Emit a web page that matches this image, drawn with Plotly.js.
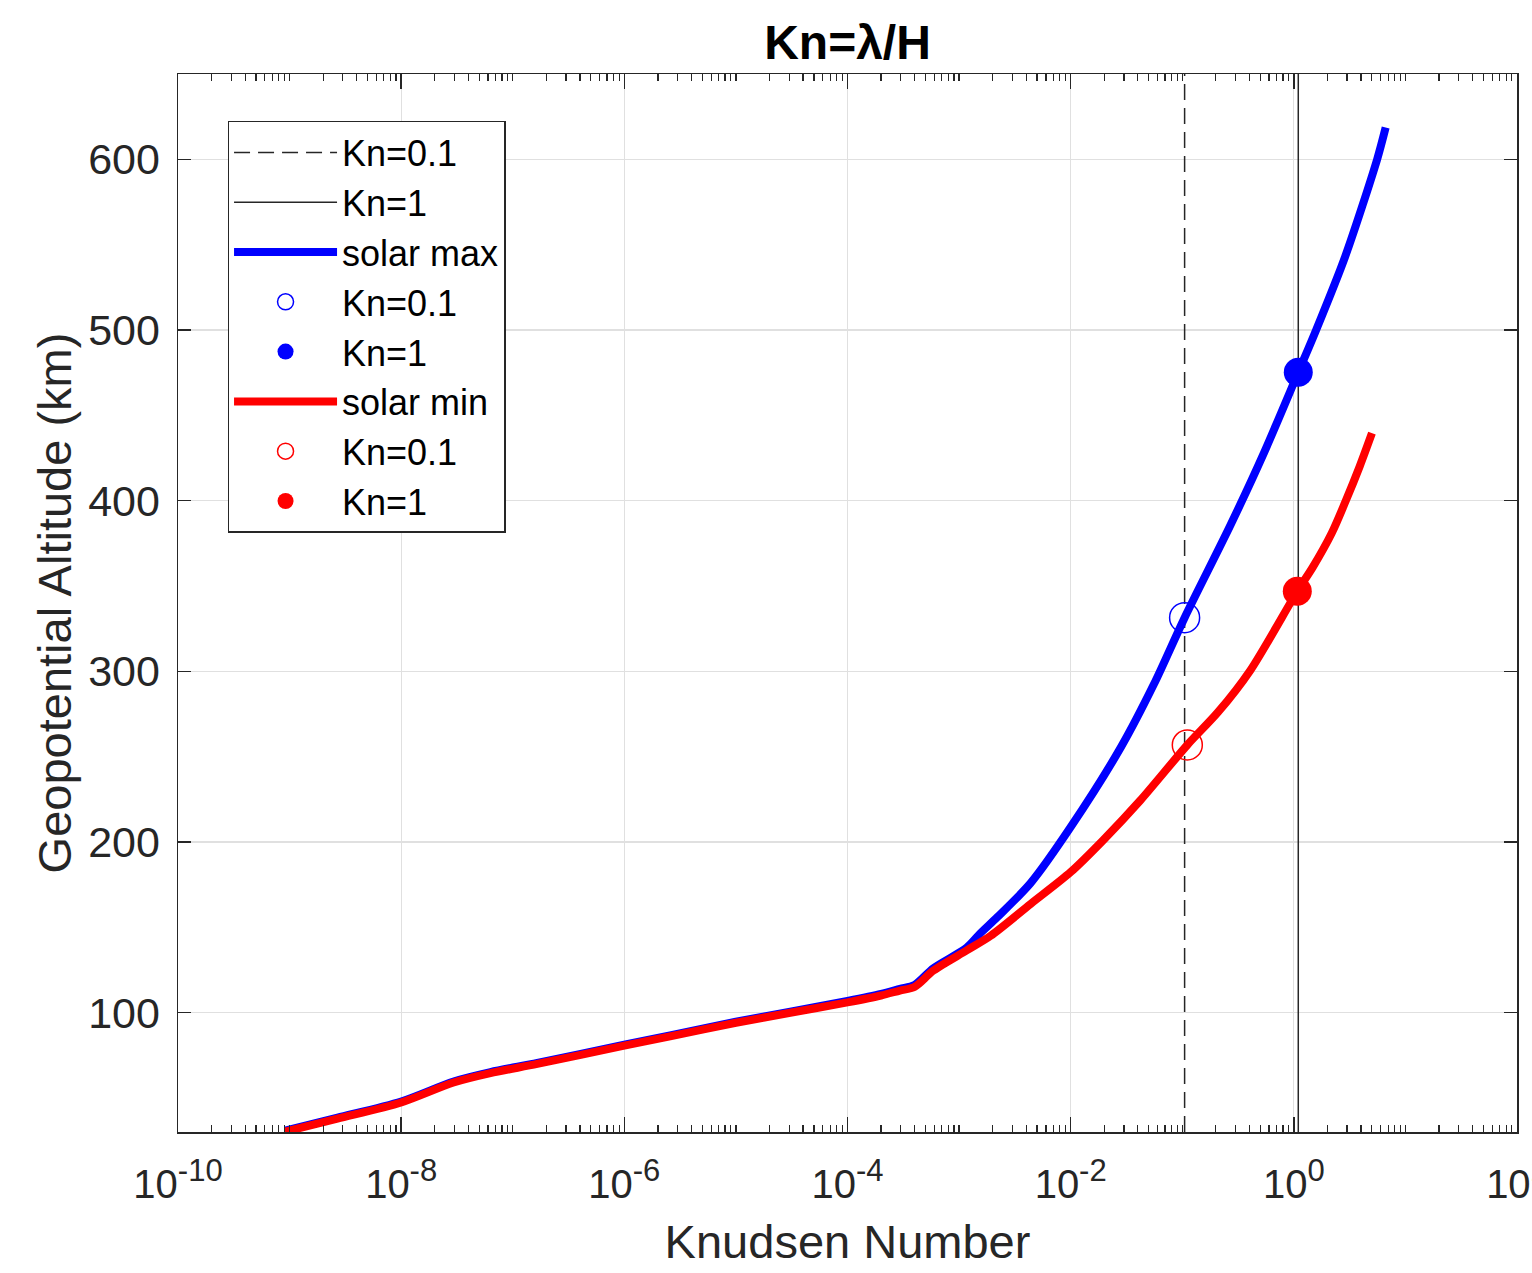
<!DOCTYPE html>
<html>
<head>
<meta charset="utf-8">
<script src="https://cdn.plot.ly/plotly-3.0.1.min.js"></script>
<style>
html,body{margin:0;padding:0;background:#fff;}
#chart{width:1532px;height:1273px;}
</style>
</head>
<body>
<div id="chart"></div>
<script>
// Solar min (red) curve: Knudsen number vs geopotential altitude (km)
const minKn  = [9.12e-10, 2.69e-9, 1.0e-8, 2.95e-8, 6.31e-8, 1.66e-7, 1.0e-6, 2.57e-6, 1.0e-5, 3.16e-5, 1.0e-4, 2.0e-4, 2.95e-4, 3.98e-4, 5.89e-4, 1.17e-3, 1.92e-3, 4.39e-3, 1.0e-2, 1.95e-2, 4.22e-2, 0.111, 0.209, 0.407, 1.074, 1.479, 2.188, 2.884, 3.890, 5.012];
const minAlt = [30.2, 37.8, 47.3, 59, 64.5, 69.9, 80.6, 86, 94, 100, 106, 110, 112.9, 115, 124.6, 136.4, 145, 163.7, 182.3, 200.9, 224.4, 256.8, 276, 300.5, 346.9, 361, 381, 399, 420, 439.5];

// Solar max (blue) curve
const maxKn  = [9.12e-10, 2.69e-9, 1.0e-8, 2.95e-8, 6.31e-8, 1.66e-7, 1.0e-6, 2.57e-6, 1.0e-5, 3.16e-5, 1.0e-4, 2.0e-4, 2.95e-4, 3.98e-4, 5.89e-4, 1.17e-3, 1.56e-3, 2.20e-3, 4.39e-3, 1.0e-2, 2.81e-2, 5.58e-2, 0.105, 0.272, 0.540, 1.096, 1.585, 2.884, 5.58, 6.65];
const maxAlt = [30.8, 38.4, 47.9, 59.6, 65.1, 70.5, 81.2, 86.6, 94.6, 100.7, 106.8, 110.9, 113.9, 116.2, 126, 138, 146.6, 155.9, 176, 208.7, 255.3, 292.5, 331.4, 386, 428, 475.2, 500, 543, 600, 618.6];

// Marker points where Kn = 0.1 and Kn = 1
const maxPt01Kn = [0.105], maxPt01Alt = [331.4];
const maxPt1Kn  = [1.096], maxPt1Alt  = [475.2];
const minPt01Kn = [0.111], minPt01Alt = [256.8];
const minPt1Kn  = [1.074], minPt1Alt  = [346.9];

// Reference vertical lines
const refKn01 = [0.105, 0.105];
const refKn1  = [1.096, 1.096];
const refAlt  = [30, 650];

// Axis ticks
const xTickVals = [1e-10, 1e-8, 1e-6, 1e-4, 1e-2, 1, 100];
const xTickExp  = ['-10', '-8', '-6', '-4', '-2', '0', '2'];
const yTickVals = [100, 200, 300, 400, 500, 600];

const FONT = 'Liberation Sans, Arial, Helvetica, sans-serif';
const INK = '#262626';

const traces = [
  {x: refKn01, y: refAlt, mode: 'lines', name: 'Kn=0.1', line: {color: INK, width: 1.5, dash: '16px,8px'}},
  {x: refKn1, y: refAlt, mode: 'lines', name: 'Kn=1', line: {color: INK, width: 1.5}},
  {x: maxKn, y: maxAlt, mode: 'lines', name: 'solar max', line: {color: '#0000ff', width: 8, shape: 'spline', smoothing: 0.8}},
  {x: maxPt01Kn, y: maxPt01Alt, mode: 'markers', name: 'Kn=0.1', marker: {symbol: 'circle-open', size: 30, color: '#0000ff', line: {width: 1.5, color: '#0000ff'}}},
  {x: maxPt1Kn, y: maxPt1Alt, mode: 'markers', name: 'Kn=1', marker: {symbol: 'circle', size: 29, color: '#0000ff'}},
  {x: minKn, y: minAlt, mode: 'lines', name: 'solar min', line: {color: '#ff0000', width: 8, shape: 'spline', smoothing: 0.8}},
  {x: minPt01Kn, y: minPt01Alt, mode: 'markers', name: 'Kn=0.1', marker: {symbol: 'circle-open', size: 30, color: '#ff0000', line: {width: 1.5, color: '#ff0000'}}},
  {x: minPt1Kn, y: minPt1Alt, mode: 'markers', name: 'Kn=1', marker: {symbol: 'circle', size: 29, color: '#ff0000'}}
];

const layout = {
  width: 1532, height: 1273,
  margin: {l: 177.5, r: 15, t: 74, b: 141, autoexpand: false},
  paper_bgcolor: '#ffffff', plot_bgcolor: '#ffffff',
  font: {family: FONT, color: INK, size: 40},
  title: {text: '<b>Kn=λ/H</b>', font: {family: FONT, size: 48, color: '#000'}, x: 0.5, xref: 'paper', xanchor: 'center', y: 1 - 42/1273, yref: 'container', yanchor: 'middle'},
  showlegend: true,
  legend: {x: 0.037, y: 0.9556, xanchor: 'left', yanchor: 'top', bgcolor: '#ffffff', bordercolor: INK, borderwidth: 1.5,
           font: {family: FONT, size: 36, color: '#000'}, itemwidth: 103, tracegroupgap: 0},
  xaxis: {
    type: 'log', range: [-10, 2], tickvals: xTickVals,
    ticktext: xTickExp.map(e => '10<sup><span style="font-size:31px">' + e + '</span></sup>'),
    ticks: 'inside', ticklen: 15, tickwidth: 1.5, tickcolor: INK,
    showline: true, linecolor: INK, linewidth: 1.5, mirror: 'ticks',
    showgrid: true, gridcolor: '#e0e0e0', gridwidth: 1.2, zeroline: false,
    tickfont: {family: FONT, size: 40, color: INK}, ticklabelstandoff: 16, ticklabeloverflow: 'allow',
    minor: {dtick: 'D1', ticks: 'inside', ticklen: 7, tickwidth: 1.2, tickcolor: INK, showgrid: false},
    title: {text: 'Knudsen Number', font: {family: FONT, size: 47, color: INK}, standoff: 20},
    automargin: false
  },
  yaxis: {
    range: [30, 650], tickvals: yTickVals, ticktext: yTickVals.map(String),
    ticks: 'inside', ticklen: 13, tickwidth: 1.5, tickcolor: INK,
    showline: true, linecolor: INK, linewidth: 1.5, mirror: 'ticks',
    showgrid: true, gridcolor: '#e0e0e0', gridwidth: 1.2, zeroline: false,
    tickfont: {family: FONT, size: 43, color: INK}, ticklabelstandoff: 8,
    title: {text: 'Geopotential Altitude (km)', font: {family: FONT, size: 47, color: INK}, standoff: 1},
    automargin: false
  }
};

Plotly.newPlot('chart', traces, layout, {displayModeBar: false, staticPlot: true});
</script>
</body>
</html>
